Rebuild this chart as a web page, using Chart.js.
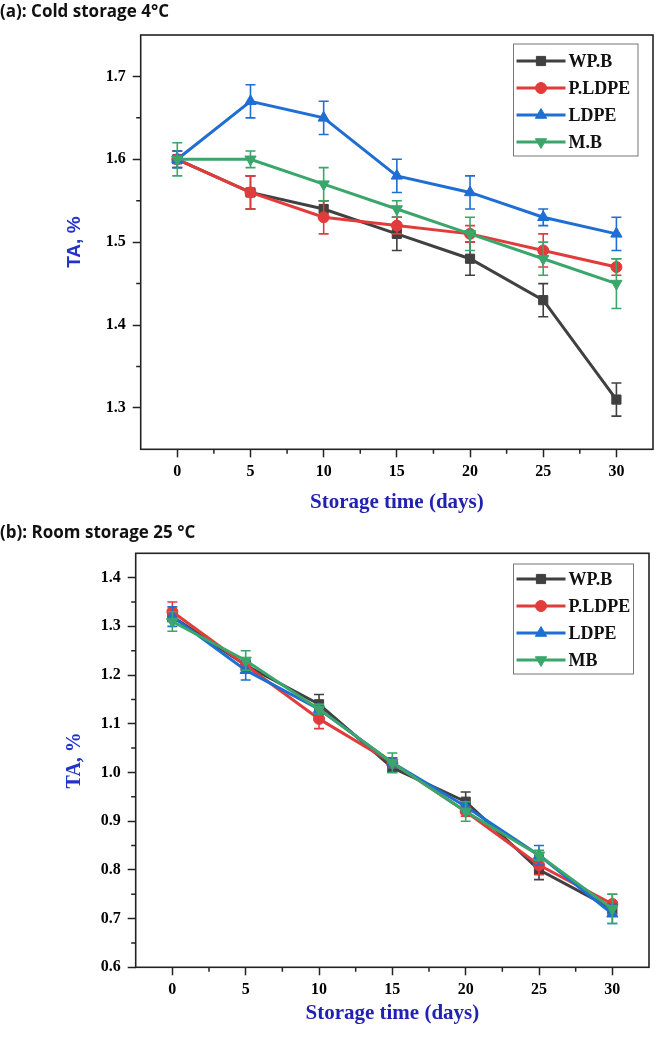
<!DOCTYPE html>
<html><head><meta charset="utf-8">
<script src="https://cdn.jsdelivr.net/npm/chart.js@4.4.1/dist/chart.umd.min.js"></script>
<style>
html,body{margin:0;padding:0;background:#fff;}
#wrap{position:relative;width:664px;height:1039px;overflow:hidden;background:#fff;}
canvas{position:absolute;left:0;}
.ptitle{position:absolute;left:0;font-family:'Open Sans',sans-serif;font-weight:700;font-size:17px;color:#111;line-height:17px;white-space:nowrap;z-index:2;}
</style></head><body>
<div id="wrap">
<canvas id="ca" width="664" height="520" style="top:0"></canvas>
<canvas id="cb" width="664" height="519" style="top:520px"></canvas>
<div class="ptitle" style="top:2px">(a): Cold storage 4°C</div>
<div class="ptitle" style="top:523px">(b): Room storage 25 °C</div>
</div>
<script>
// ---------- data ----------
const days = [0, 5, 10, 15, 20, 25, 30];
const xTickValues = [0, 5, 10, 15, 20, 25, 30];
const xMinorTicks = [2.5, 7.5, 12.5, 17.5, 22.5, 27.5];

// (a) cold storage 4°C
const namesA = ['WP.B', 'P.LDPE', 'LDPE', 'M.B'];
const yTicksA = [1.3, 1.4, 1.5, 1.6, 1.7];
const yMinorA = [1.35, 1.45, 1.55, 1.65];
const wpbA      = [1.60, 1.56, 1.54, 1.51, 1.48, 1.43, 1.31];
const wpbErrA   = [0.01, 0.02, 0.01, 0.02, 0.02, 0.02, 0.02];
const pldpeA    = [1.60, 1.56, 1.53, 1.52, 1.51, 1.49, 1.47];
const pldpeErrA = [0.00, 0.02, 0.02, 0.01, 0.01, 0.02, 0.01];
const ldpeA     = [1.60, 1.67, 1.65, 1.58, 1.56, 1.53, 1.51];
const ldpeErrA  = [0.01, 0.02, 0.02, 0.02, 0.02, 0.01, 0.02];
const mbA       = [1.60, 1.60, 1.57, 1.54, 1.51, 1.48, 1.45];
const mbErrA    = [0.02, 0.01, 0.02, 0.01, 0.02, 0.02, 0.03];

// (b) room storage 25 °C
const namesB = ['WP.B', 'P.LDPE', 'LDPE', 'MB'];
const yTicksB = [0.6, 0.7, 0.8, 0.9, 1.0, 1.1, 1.2, 1.3, 1.4];
const yMinorB = [0.65, 0.75, 0.85, 0.95, 1.05, 1.15, 1.25, 1.35];
const wpbB      = [1.32, 1.22, 1.14, 1.01, 0.94, 0.80, 0.72];
const wpbErrB   = [0.01, 0.01, 0.02, 0.01, 0.02, 0.02, 0.01];
const pldpeB    = [1.33, 1.22, 1.11, 1.02, 0.92, 0.81, 0.73];
const pldpeErrB = [0.02, 0.01, 0.02, 0.01, 0.01, 0.02, 0.02];
const ldpeB     = [1.32, 1.21, 1.13, 1.02, 0.93, 0.83, 0.71];
const ldpeErrB  = [0.02, 0.02, 0.01, 0.01, 0.01, 0.02, 0.02];
const mbB       = [1.31, 1.23, 1.13, 1.02, 0.92, 0.83, 0.72];
const mbErrB    = [0.02, 0.02, 0.01, 0.02, 0.02, 0.01, 0.03];

// ---------- styles ----------
const styles = [
  {color: '#404040', pointStyle: 'rect', radius: 6.5, rotation: 0},
  {color: '#e23b3b', pointStyle: 'circle', radius: 5.5, rotation: 0},
  {color: '#1f6ed4', pointStyle: 'triangle', radius: 6.5, rotation: 0},
  {color: '#3aa66b', pointStyle: 'triangle', radius: 6.5, rotation: 180}
];
const TITLE_BLUE = '#2222b2';

function makeDatasets(names, series, errs) {
  return names.map((n, i) => ({
    label: n,
    data: days.map((d, j) => ({x: d, y: series[i][j]})),
    errors: errs[i],
    borderColor: styles[i].color,
    backgroundColor: styles[i].color,
    borderWidth: 3,
    pointStyle: styles[i].pointStyle,
    pointRadius: styles[i].radius,
    pointRotation: styles[i].rotation,
    pointBorderWidth: 1,
    pointBackgroundColor: styles[i].color,
    pointBorderColor: styles[i].color,
    tension: 0,
    order: 4 - i,
    clip: false
  }));
}

function drawMarker(ctx, st, x, y) {
  ctx.save();
  ctx.fillStyle = st.color; ctx.strokeStyle = st.color; ctx.lineWidth = 1;
  if (Chart.helpers && Chart.helpers.drawPoint) {
    Chart.helpers.drawPoint(ctx, {pointStyle: st.pointStyle, radius: st.radius, rotation: st.rotation, borderWidth: 1}, x, y);
  } else {
    ctx.beginPath(); ctx.arc(x, y, st.radius, 0, Math.PI * 2); ctx.fill();
  }
  ctx.restore();
}

function makePlugins(cfg) {
  const frame = {
    id: 'frame',
    beforeDatasetsDraw(chart) {
      const a = chart.chartArea, ctx = chart.ctx;
      ctx.save(); ctx.strokeStyle = '#222'; ctx.lineWidth = 1.6;
      ctx.strokeRect(a.left, a.top, a.right - a.left, a.bottom - a.top);
      ctx.restore();
    }
  };
  const errBars = {
    id: 'errBars',
    afterDatasetDraw(chart, args) {
      const ds = chart.data.datasets[args.index];
      const xs = chart.scales.x, ys = chart.scales.y, ctx = chart.ctx;
      ctx.save(); ctx.strokeStyle = ds.borderColor; ctx.lineWidth = 1.6;
      ds.data.forEach((p, j) => {
        const e = ds.errors[j]; if (!e) return;
        const x = xs.getPixelForValue(p.x);
        const y1 = ys.getPixelForValue(p.y + e), y2 = ys.getPixelForValue(p.y - e);
        ctx.beginPath();
        ctx.moveTo(x, y1); ctx.lineTo(x, y2);
        ctx.moveTo(x - 5, y1); ctx.lineTo(x + 5, y1);
        ctx.moveTo(x - 5, y2); ctx.lineTo(x + 5, y2);
        ctx.stroke();
      });
      ctx.restore();
    }
  };
  const minor = {
    id: 'minorTicks',
    afterDraw(chart) {
      const xs = chart.scales.x, ys = chart.scales.y, a = chart.chartArea, ctx = chart.ctx;
      ctx.save(); ctx.strokeStyle = '#222'; ctx.lineWidth = 1.5; ctx.beginPath();
      xMinorTicks.forEach(v => { const x = xs.getPixelForValue(v); ctx.moveTo(x, a.bottom); ctx.lineTo(x, a.bottom + 4.5); });
      cfg.yMinor.forEach(v => { const y = ys.getPixelForValue(v); ctx.moveTo(a.left, y); ctx.lineTo(a.left - 4.5, y); });
      ctx.stroke(); ctx.restore();
    }
  };
  const legend = {
    id: 'boxLegend',
    afterDraw(chart) {
      const L = cfg.legend, ctx = chart.ctx;
      ctx.save();
      ctx.strokeStyle = '#777'; ctx.lineWidth = 1;
      ctx.strokeRect(L.left, L.top, L.width, L.height);
      ctx.font = 'bold 18px "Liberation Serif"';
      ctx.textBaseline = 'middle'; ctx.fillStyle = '#111';
      chart.data.datasets.forEach((ds, i) => {
        const y = L.row0 + i * L.gap;
        const st = styles[i];
        ctx.strokeStyle = st.color; ctx.lineWidth = 3;
        ctx.beginPath(); ctx.moveTo(L.left + 3, y); ctx.lineTo(L.left + 52, y); ctx.stroke();
        drawMarker(ctx, st, L.left + 27.5, y);
        ctx.fillStyle = '#111';
        ctx.fillText(ds.label, L.left + 55, y + 1);
      });
      ctx.restore();
    }
  };
  return [frame, errBars, minor, legend];
}

function build(canvasId, cfg) {
  return new Chart(document.getElementById(canvasId), {
    type: 'line',
    data: {datasets: cfg.datasets},
    options: {
      responsive: false, animation: false, devicePixelRatio: 1, events: [],
      layout: {padding: {left: 0, top: cfg.top, right: cfg.right, bottom: 0}},
      plugins: {legend: {display: false}, tooltip: {enabled: false}},
      scales: {
        x: {
          type: 'linear', min: -2.5, max: 32.5,
          afterBuildTicks: s => { s.ticks = xTickValues.map(v => ({value: v})); },
          afterFit: s => { s.height = cfg.xAxisH; },
          border: {display: false},
          grid: {drawOnChartArea: false, drawTicks: true, tickLength: 8, tickWidth: 1.5, tickColor: '#222'},
          ticks: {padding: 5, color: '#000', maxRotation: 0, font: {family: 'Liberation Serif', weight: 'bold', size: 16}, callback: v => String(v)},
          title: {display: true, text: 'Storage time (days)', color: TITLE_BLUE, font: {family: 'Liberation Serif', weight: 'bold', size: 21}, padding: {top: 0, bottom: cfg.xTitlePad}}
        },
        y: {
          type: 'linear', min: cfg.yMin, max: cfg.yMax,
          afterBuildTicks: s => { s.ticks = cfg.yTicks.map(v => ({value: v})); },
          afterFit: s => { s.width = cfg.left; },
          border: {display: false},
          grid: {drawOnChartArea: false, drawTicks: true, tickLength: 8, tickWidth: 1.5, tickColor: '#222'},
          ticks: {padding: 7, color: '#000', font: {family: 'Liberation Serif', weight: 'bold', size: 16}, callback: v => Number(v).toFixed(1)},
          title: {display: true, text: 'TA, %', color: cfg.yTitleColor, font: cfg.yTitleFont, padding: {top: cfg.yTitlePad, bottom: 0}}
        }
      }
    },
    plugins: makePlugins(cfg)
  });
}

build('ca', {
  datasets: makeDatasets(namesA, [wpbA, pldpeA, ldpeA, mbA], [wpbErrA, pldpeErrA, ldpeErrA, mbErrA]),
  top: 35, right: 11, left: 140.7, xAxisH: 520 - 449.3, xTitlePad: 4.4,
  yMin: 1.25, yMax: 1.75, yTicks: yTicksA, yMinor: yMinorA,
  yTitleFont: {family: 'Liberation Sans', weight: 'bold', size: 19}, yTitleColor: '#2233c8', yTitlePad: 75 - 11.4,
  legend: {left: 513.5, top: 44, width: 124.5, height: 112, row0: 61, gap: 27}
});

build('cb', {
  datasets: makeDatasets(namesB, [wpbB, pldpeB, ldpeB, mbB], [wpbErrB, pldpeErrB, ldpeErrB, mbErrB]),
  top: 33.3, right: 15, left: 135.7, xAxisH: 519 - 447.3, xTitlePad: 12.4,
  yMin: 0.6, yMax: 1.45, yTicks: yTicksB, yMinor: yMinorB,
  yTitleFont: {family: 'Liberation Serif', weight: 'bold', size: 20}, yTitleColor: '#2233c8', yTitlePad: 75 - 12,
  legend: {left: 513.5, top: 44, width: 120, height: 110, row0: 59, gap: 27}
});
</script>
</body></html>
